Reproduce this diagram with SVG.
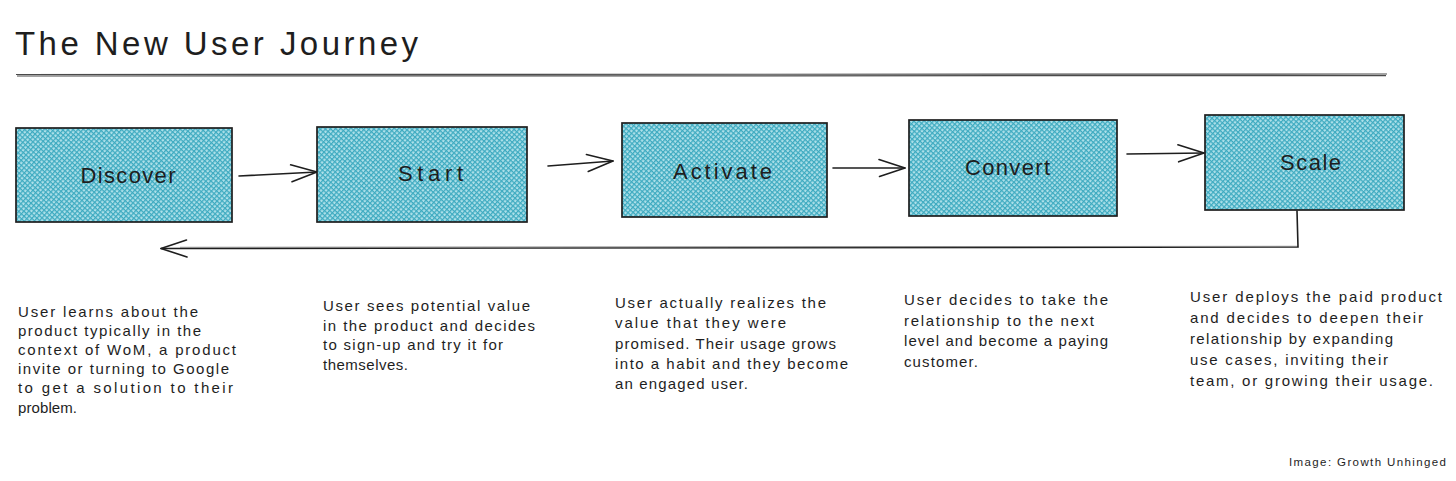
<svg xmlns="http://www.w3.org/2000/svg" width="1456" height="481" viewBox="0 0 1456 481">
  <defs>
    <pattern id="hatch" patternUnits="userSpaceOnUse" width="3.6" height="3.6" patternTransform="rotate(42)">
      <rect width="3.6" height="3.6" fill="#ade0e9"/>
      <line x1="0" y1="0.6" x2="3.6" y2="0.6" stroke="#3daac0" stroke-width="1.25"/>
      <line x1="0.6" y1="0" x2="0.6" y2="3.6" stroke="#3daac0" stroke-width="1.25"/>
    </pattern>
    <marker id="chev" markerUnits="userSpaceOnUse" markerWidth="32" markerHeight="24" refX="28" refY="12" orient="auto" overflow="visible">
      <path d="M2,3.5 L28,12 L2.5,20.5" fill="none" stroke="#1e1e1e" stroke-width="1.6" stroke-linecap="round" stroke-linejoin="round"/>
    </marker>
  </defs>
  <style>
    .box { fill: url(#hatch); stroke: #1e1e1e; stroke-width: 1.7; }
    .lbl { font-family: "Liberation Sans", "DejaVu Sans", sans-serif; font-size: 22px; fill: #1e1e1e; text-anchor: middle; }
    .desc { font-family: "Liberation Sans", "DejaVu Sans", sans-serif; font-size: 15px; fill: #1e1e1e; }
    .title { font-family: "Liberation Sans", "DejaVu Sans", sans-serif; font-size: 33px; fill: #1e1e1e; }
    .credit { font-family: "Liberation Sans", "DejaVu Sans", sans-serif; font-size: 11.5px; fill: #1e1e1e; }
    .conn { fill: none; stroke: #1e1e1e; stroke-width: 1.6; stroke-linecap: round; }
    .rule { fill: none; stroke: #4a4a4a; stroke-width: 1.2; }
  </style>
  <rect width="1456" height="481" fill="#ffffff"/>

  <g id="title">
    <text class="title" x="15" y="55" textLength="403" lengthAdjust="spacing">The New User Journey</text>
    <line class="rule" x1="16" y1="74.5" x2="1387" y2="74"/>
    <line class="rule" x1="17" y1="76" x2="1386" y2="75.6" stroke="#8a8a8a"/>
  </g>

  <g id="connectors">
    <path class="conn" d="M239,176 L317,172" marker-end="url(#chev)"/>
    <path class="conn" d="M548,166 L613,161" marker-end="url(#chev)"/>
    <path class="conn" d="M833,168 L905,168" marker-end="url(#chev)"/>
    <path class="conn" d="M1127,154 L1204,153" marker-end="url(#chev)"/>
    <path class="conn" d="M1297,211 L1298,247 L161,248.5" marker-end="url(#chev)"/>
    <path d="M1297,246.3 L180,247.3" fill="none" stroke="#8a8a8a" stroke-width="1"/>
  </g>

  <g id="discover">
    <rect class="box" x="16" y="128" width="216" height="94"/>
    <text class="lbl" x="128" y="183" textLength="95" lengthAdjust="spacing">Discover</text>
    <text class="desc" x="18" y="316.5" textLength="180" lengthAdjust="spacing">User learns about the</text>
    <text class="desc" x="18" y="335.7" textLength="183" lengthAdjust="spacing">product typically in the</text>
    <text class="desc" x="18" y="354.9" textLength="218" lengthAdjust="spacing">context of WoM, a product</text>
    <text class="desc" x="18" y="374.1" textLength="211" lengthAdjust="spacing">invite or turning to Google</text>
    <text class="desc" x="18" y="393.3" textLength="215" lengthAdjust="spacing">to get a solution to their</text>
    <text class="desc" x="18" y="412.5" textLength="59" lengthAdjust="spacing">problem.</text>
  </g>

  <g id="start">
    <rect class="box" x="317" y="127" width="210" height="95"/>
    <text class="lbl" x="430.5" y="181" textLength="65" lengthAdjust="spacing">Start</text>
    <text class="desc" x="323" y="311" textLength="207" lengthAdjust="spacing">User sees potential value</text>
    <text class="desc" x="323" y="330.5" textLength="212" lengthAdjust="spacing">in the product and decides</text>
    <text class="desc" x="323" y="350" textLength="180" lengthAdjust="spacing">to sign-up and try it for</text>
    <text class="desc" x="323" y="369.5" textLength="85" lengthAdjust="spacing">themselves.</text>
  </g>

  <g id="activate">
    <rect class="box" x="622" y="123" width="205" height="94"/>
    <text class="lbl" x="722.5" y="179" textLength="99" lengthAdjust="spacing">Activate</text>
    <text class="desc" x="615" y="308" textLength="211" lengthAdjust="spacing">User actually realizes the</text>
    <text class="desc" x="615" y="328.3" textLength="171" lengthAdjust="spacing">value that they were</text>
    <text class="desc" x="615" y="348.6" textLength="221" lengthAdjust="spacing">promised. Their usage grows</text>
    <text class="desc" x="615" y="368.9" textLength="233" lengthAdjust="spacing">into a habit and they become</text>
    <text class="desc" x="615" y="389.2" textLength="133" lengthAdjust="spacing">an engaged user.</text>
  </g>

  <g id="convert">
    <rect class="box" x="909" y="120" width="208" height="96"/>
    <text class="lbl" x="1007.5" y="175" textLength="85" lengthAdjust="spacing">Convert</text>
    <text class="desc" x="904" y="305" textLength="204" lengthAdjust="spacing">User decides to take the</text>
    <text class="desc" x="904" y="325.5" textLength="190" lengthAdjust="spacing">relationship to the next</text>
    <text class="desc" x="904" y="346" textLength="204" lengthAdjust="spacing">level and become a paying</text>
    <text class="desc" x="904" y="366.5" textLength="74" lengthAdjust="spacing">customer.</text>
  </g>

  <g id="scale">
    <rect class="box" x="1205" y="115" width="199" height="95"/>
    <text class="lbl" x="1310.5" y="170" textLength="61" lengthAdjust="spacing">Scale</text>
    <text class="desc" x="1190" y="302" textLength="252" lengthAdjust="spacing">User deploys the paid product</text>
    <text class="desc" x="1190" y="323" textLength="233" lengthAdjust="spacing">and decides to deepen their</text>
    <text class="desc" x="1190" y="344" textLength="203" lengthAdjust="spacing">relationship by expanding</text>
    <text class="desc" x="1190" y="365" textLength="198" lengthAdjust="spacing">use cases, inviting their</text>
    <text class="desc" x="1190" y="386" textLength="243" lengthAdjust="spacing">team, or growing their usage.</text>
  </g>

  <g id="credit">
    <text class="credit" x="1289" y="466" textLength="157" lengthAdjust="spacing">Image: Growth Unhinged</text>
  </g>
</svg>
